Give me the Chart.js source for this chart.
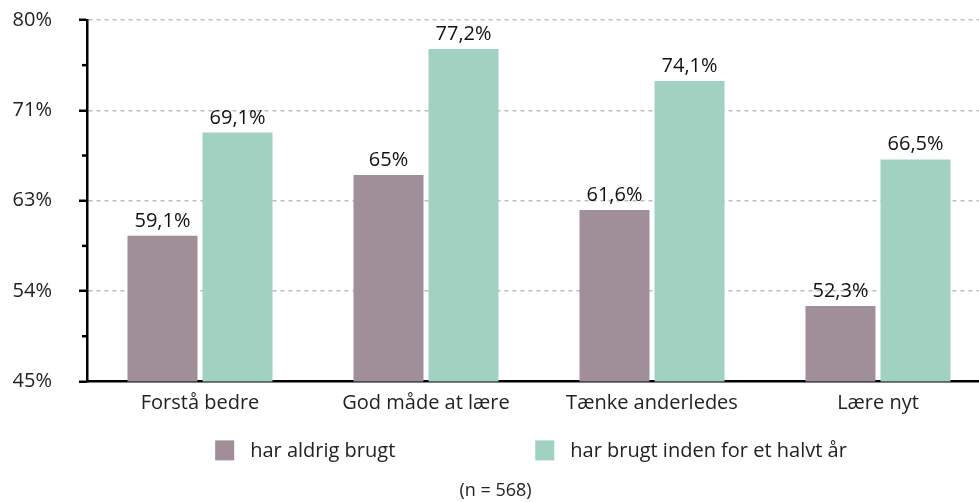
<!DOCTYPE html>
<html>
<head>
<meta charset="utf-8">
<script src="https://cdn.jsdelivr.net/npm/chart.js@4.4.0/dist/chart.umd.min.js"></script>
<style>
  html, body { margin: 0; padding: 0; background: #fff; }
  #frame { width: 979px; height: 502px; overflow: hidden; }
  #wrap { width: 991px; height: 502px; position: relative; }
</style>
</head>
<body>
<div id="frame"><div id="wrap"><canvas id="chart"></canvas></div></div>
<script>
// data
const categories = ['Forstå bedre', 'God måde at lære', 'Tænke anderledes', 'Lære nyt'];
const neverUsed = [59.1, 65, 61.6, 52.3];
const usedHalfYear = [69.1, 77.2, 74.1, 66.5];
const seriesNames = ['har aldrig brugt', 'har brugt inden for et halvt år'];
const seriesColors = ['#a08e98', '#a0d1c1'];
const yMin = 45, yMax = 80, yStep = 8.75;
const noteText = '(n = 568)';

const FONT_FAMILY = '"Open Sans", sans-serif';
const FONT_SIZE = 20;
const VISIBLE_WIDTH = 979; // the plot runs a little past the right edge
const fmtPct = v => String(v).replace('.', ',') + '%';

// labels above the bars
const barLabels = {
  id: 'barLabels',
  afterDatasetsDraw(chart) {
    const ctx = chart.ctx;
    ctx.save();
    ctx.font = `${FONT_SIZE}px ${FONT_FAMILY}`;
    ctx.fillStyle = '#111';
    ctx.textAlign = 'center';
    ctx.textBaseline = 'alphabetic';
    chart.data.datasets.forEach((ds, i) => {
      chart.getDatasetMeta(i).data.forEach((bar, j) => {
        ctx.fillText(fmtPct(ds.data[j]), bar.x, bar.y - 9);
      });
    });
    ctx.restore();
  }
};

// short minor ticks halfway between the labelled ones
const minorTicks = {
  id: 'minorTicks',
  afterDraw(chart) {
    const y = chart.scales.y;
    const ctx = chart.ctx;
    ctx.save();
    ctx.strokeStyle = '#000';
    ctx.lineWidth = 2.5;
    y.ticks.forEach((t, i) => {
      if (i % 2 === 0) return;
      const py = y.getPixelForValue(t.value);
      ctx.beginPath();
      ctx.moveTo(y.right - 5, py);
      ctx.lineTo(y.right, py);
      ctx.stroke();
    });
    ctx.restore();
  }
};

// legend row, drawn by hand to get the wide spacing
const legendRow = {
  id: 'legendRow',
  afterDraw(chart) {
    const ctx = chart.ctx;
    const area = chart.chartArea;
    ctx.save();
    ctx.font = `${FONT_SIZE}px ${FONT_FAMILY}`;
    ctx.textBaseline = 'middle';
    ctx.textAlign = 'left';
    const box = 19, boxH = 20, textGap = 16, itemGap = 140;
    const widths = seriesNames.map(n => ctx.measureText(n).width);
    const total = widths.reduce((a, w) => a + box + textGap + w, 0) + itemGap;
    const cx = (area.left + VISIBLE_WIDTH) / 2 - 2;
    const cy = area.bottom + 69;
    let x = cx - total / 2;
    seriesNames.forEach((name, i) => {
      ctx.fillStyle = seriesColors[i];
      ctx.fillRect(x, cy - boxH / 2, box, boxH);
      ctx.fillStyle = '#222';
      ctx.fillText(name, x + box + textGap, cy + 1);
      x += box + textGap + widths[i] + itemGap;
    });
    ctx.restore();
  }
};

new Chart(document.getElementById('chart'), {
  type: 'bar',
  data: {
    labels: categories,
    datasets: [
      { label: seriesNames[0], data: neverUsed, backgroundColor: seriesColors[0] },
      { label: seriesNames[1], data: usedHalfYear, backgroundColor: seriesColors[1] }
    ]
  },
  options: {
    responsive: true,
    maintainAspectRatio: false,
    animation: false,
    categoryPercentage: 0.664,
    barPercentage: 0.933,
    layout: { padding: { top: 20, right: 0, bottom: 0, left: 0 } },
    plugins: {
      legend: { display: false },
      tooltip: { enabled: false },
      subtitle: {
        display: true,
        position: 'bottom',
        text: noteText,
        color: '#222',
        font: { family: FONT_FAMILY, size: 18, weight: 'normal' },
        padding: { top: 55, bottom: 0 }
      }
    },
    scales: {
      x: {
        grid: { display: false, drawTicks: false },
        border: { display: true, color: '#000', width: 2.5 },
        ticks: { color: '#222', padding: 10, font: { family: FONT_FAMILY, size: FONT_SIZE } }
      },
      y: {
        min: yMin,
        max: yMax,
        afterFit: s => {
          s.width = 87;
          // tick padding would otherwise push the plot down from the top
          s.paddingTop = 0;
          s.paddingBottom = 0;
        },
        ticks: {
          stepSize: yStep / 2,
          padding: 27,
          color: '#222',
          font: { family: FONT_FAMILY, size: FONT_SIZE },
          callback: (v, i) => (i % 2 ? '' : Math.round(v) + '%')
        },
        grid: {
          tickLength: 8,
          tickWidth: 2.5,
          color: c => (c.index % 2 || c.tick.value === yMin ? 'rgba(0,0,0,0)' : '#bdbdbd'),
          lineWidth: 1.5,
          tickColor: c => (c.index % 2 ? 'rgba(0,0,0,0)' : '#000')
        },
        border: { display: true, color: '#000', width: 2.5, dash: [4, 4] }
      }
    }
  },
  plugins: [barLabels, minorTicks, legendRow]
});
</script>
</body>
</html>
